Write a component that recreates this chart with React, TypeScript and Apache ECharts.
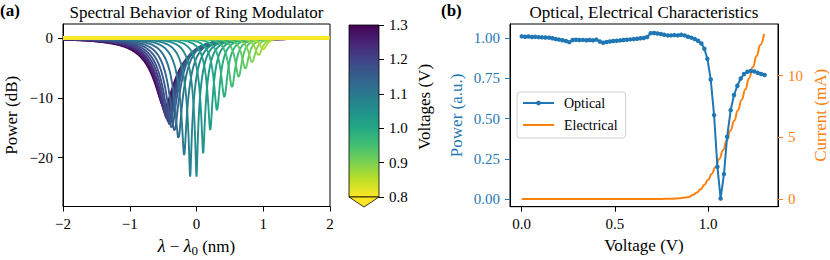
import React, { useEffect, useRef } from "react";
import * as echarts from "echarts";

// ---------- Panel (a): ring modulator spectra (one resonance per bias voltage) ----------
const ringVoltages = [1.3, 1.28, 1.26, 1.24, 1.22, 1.2, 1.18, 1.16, 1.14, 1.12, 1.1, 1.08, 1.06, 1.04, 1.02, 1.0, 0.98, 0.96, 0.94, 0.92, 0.9, 0.88, 0.86, 0.84, 0.82, 0.8];
const ringCenters = [-0.48, -0.47, -0.46, -0.45, -0.44, -0.42, -0.4, -0.37, -0.33, -0.27, -0.185, -0.095, 0.0, 0.1, 0.206, 0.307, 0.417, 0.532, 0.632, 0.732, 0.832, 0.93, 1.0, 0, 0, 0];
const ringDepthsDb = [-11.5, -12.0, -12.5, -13.0, -13.5, -14.0, -14.5, -15.0, -15.5, -16.8, -19.6, -23.2, -23.2, -19.3, -15.4, -12.1, -9.9, -8.2, -6.5, -5.1, -4.0, -2.85, -1.9, 0, 0, 0];
const ringHalfWidths = [0.4, 0.39, 0.375, 0.36, 0.34, 0.32, 0.295, 0.27, 0.245, 0.22, 0.2, 0.18, 0.16, 0.145, 0.13, 0.12, 0.11, 0.1, 0.09, 0.085, 0.08, 0.075, 0.07, 0.1, 0.1, 0.1];
const spectralTicks = [-20, -10, 0];
const wavelengthTicks = [-2, -1, 0, 1, 2];
const colorbarTicks = [0.8, 0.9, 1.0, 1.1, 1.2, 1.3];

// ---------- Panel (b): optical & electrical characteristics ----------
const opticalVoltage = [
  0, 0.018, 0.036, 0.055, 0.073, 0.091, 0.109, 0.127, 0.146, 0.164, 0.182, 0.2, 0.218, 0.237, 0.255, 0.273,
  0.291, 0.309, 0.328, 0.346, 0.364, 0.382, 0.4, 0.419, 0.437, 0.455, 0.473, 0.491, 0.51, 0.528, 0.546, 0.564,
  0.582, 0.601, 0.619, 0.637, 0.655, 0.673, 0.692, 0.71, 0.728, 0.746, 0.764, 0.783, 0.801, 0.819, 0.837, 0.855,
  0.874, 0.892, 0.91, 0.928, 0.946, 0.964, 0.98, 0.996, 1.014, 1.032, 1.05, 1.067, 1.085, 1.102, 1.121, 1.139,
  1.157, 1.175, 1.193, 1.211, 1.229, 1.248, 1.266, 1.284, 1.303,
];
const opticalPower = [
  1.012, 1.01, 1.011, 1.008, 1.009, 1.007, 1.006, 1.005, 1.004, 1.0, 0.996, 0.992, 0.988, 0.983, 0.976, 0.989,
  0.991, 0.989, 0.99, 0.988, 0.989, 0.987, 0.992, 0.98, 0.972, 0.977, 0.98, 0.983, 0.985, 0.987, 0.989, 0.991,
  0.993, 0.995, 0.997, 1.0, 1.002, 1.008, 1.032, 1.033, 1.03, 1.027, 1.022, 1.018, 1.018, 1.02, 1.018, 1.022,
  1.018, 1.01, 1.004, 0.996, 0.985, 0.968, 0.935, 0.872, 0.744, 0.522, 0.2, 0.003, 0.155, 0.387, 0.553, 0.647,
  0.705, 0.75, 0.778, 0.792, 0.797, 0.794, 0.785, 0.778, 0.772,
];
const electricalVoltage = [0, 0.2, 0.4, 0.6, 0.7, 0.75, 0.8, 0.85, 0.88, 0.9, 0.92, 0.94, 0.96, 0.98, 1.0, 1.02, 1.04, 1.06, 1.08, 1.1, 1.12, 1.14, 1.16, 1.18, 1.2, 1.22, 1.24, 1.26, 1.28, 1.3];
const electricalCurrent = [0, 0, 0, 0, 0, 0, 0.02, 0.06, 0.12, 0.18, 0.33, 0.52, 0.78, 1.15, 1.55, 2.05, 2.6, 3.25, 3.95, 4.75, 5.55, 6.35, 7.2, 8.05, 8.9, 9.8, 10.7, 11.6, 12.5, 13.4];
const voltageTicks = [0, 0.5, 1.0];
const powerTicks = [0, 0.25, 0.5, 0.75, 1.0];
const currentTicks = [0, 5, 10];

const VIRIDIS = ["#440154", "#482475", "#414487", "#355f8d", "#2a788e", "#21918c", "#22a884", "#44bf70", "#7ad151", "#bddf26", "#fde725"];

function hexToRgb(h: string) {
  return [parseInt(h.slice(1, 3), 16), parseInt(h.slice(3, 5), 16), parseInt(h.slice(5, 7), 16)];
}
function viridis(t: number) {
  const tt = Math.max(0, Math.min(1, t)) * (VIRIDIS.length - 1);
  const i = Math.min(VIRIDIS.length - 2, Math.floor(tt));
  const f = tt - i;
  const a = hexToRgb(VIRIDIS[i]);
  const b = hexToRgb(VIRIDIS[i + 1]);
  const c = a.map((v, k) => Math.round(v + (b[k] - v) * f));
  return `rgb(${c[0]},${c[1]},${c[2]})`;
}
const VMIN = 0.8;
const VMAX = 1.3;
const voltColor = (v: number) => viridis(1 - (v - VMIN) / (VMAX - VMIN));

function resonance(center: number, depthDb: number, hw: number) {
  const pts: number[][] = [];
  const tMin = Math.pow(10, depthDb / 10);
  for (let i = 0; i <= 800; i++) {
    const l = -2 + i * 0.005;
    const x = (l - center) / hw;
    const t = 1 - (1 - tMin) / (1 + x * x);
    pts.push([l, 10 * Math.log10(t)]);
  }
  return pts;
}

const FONT = "Liberation Serif";
const TICK_FS = 15;
const LABEL_FS = 17;
const BLUE = "#1f77b4";
const ORANGE = "#ff7f0e";

const GA = { left: 63, top: 24, width: 267, height: 182.5 };
const GC = { left: 349, top: 25, width: 30, height: 172 };
const GB = { left: 510, top: 24, width: 268, height: 182.7 };

const minusFmt = (v: number) => (v < 0 ? "\u2212" + Math.abs(v) : String(v));

export default function App() {
  const ref = useRef<HTMLDivElement>(null);
  useEffect(() => {
    if (!ref.current) return;
    const chart = echarts.init(ref.current, undefined, { renderer: "svg" });

    const tickStyle = (color: string) => ({ show: true, length: 5, inside: false, lineStyle: { color, width: 1 } });
    const labelStyle = (color: string) => ({ color, fontFamily: FONT, fontSize: TICK_FS });
    const axisLine = { show: true, onZero: false, lineStyle: { color: "#000" } };

    const ringSeries = ringVoltages.map((v, i) => ({
      name: v.toFixed(2) + " V",
      type: "line",
      xAxisIndex: 0,
      yAxisIndex: 0,
      showSymbol: false,
      symbol: "none",
      silent: true,
      data: resonance(ringCenters[i], ringDepthsDb[i], ringHalfWidths[i]),
      lineStyle: { color: voltColor(v), width: ringDepthsDb[i] === 0 ? 3.5 : 1.9 },
      itemStyle: { color: voltColor(v) },
    }));

    const gradStops = [];
    for (let k = 0; k <= 20; k++) {
      gradStops.push({ offset: k / 20, color: viridis(k / 20) });
    }

    const option: any = {
      animation: false,
      textStyle: { fontFamily: FONT },
      grid: [
        { ...GA, show: true, borderColor: "#000", borderWidth: 1, backgroundColor: "transparent" },
        { ...GC, show: true, borderColor: "#000", borderWidth: 0.8, backgroundColor: "transparent" },
        { ...GB, show: true, borderColor: "#000", borderWidth: 1, backgroundColor: "transparent" },
      ],
      xAxis: [
        {
          gridIndex: 0, type: "value", min: -2, max: 2, interval: 1,
          axisLine,
          axisTick: tickStyle("#000"),
          axisLabel: { ...labelStyle("#000"), margin: 10, formatter: minusFmt, customValues: wavelengthTicks },
          splitLine: { show: false },
        },
        { gridIndex: 1, type: "value", min: 0, max: 1, show: false },
        {
          gridIndex: 2, type: "value", min: -0.063, max: 1.375,
          axisLine,
          axisTick: { ...tickStyle("#000"), customValues: voltageTicks },
          axisLabel: { ...labelStyle("#000"), margin: 10, formatter: (v: number) => v.toFixed(1), customValues: voltageTicks },
          splitLine: { show: false },
        },
      ],
      yAxis: [
        {
          gridIndex: 0, type: "value", min: -28.2, max: 2.35,
          axisLine,
          axisTick: { ...tickStyle("#000"), customValues: spectralTicks },
          axisLabel: { ...labelStyle("#000"), margin: 10, formatter: minusFmt, customValues: spectralTicks },
          splitLine: { show: false },
        },
        {
          gridIndex: 1, type: "value", position: "right", min: 0.8, max: 1.3,
          axisLine: { show: false, onZero: false },
          axisTick: { ...tickStyle("#000"), customValues: colorbarTicks },
          axisLabel: { ...labelStyle("#000"), margin: 10, formatter: (v: number) => v.toFixed(1), customValues: colorbarTicks },
          splitLine: { show: false },
        },
        {
          gridIndex: 2, type: "value", min: -0.048, max: 1.089,
          axisLine,
          axisTick: { ...tickStyle(BLUE), customValues: powerTicks },
          axisLabel: { ...labelStyle(BLUE), margin: 10, formatter: (v: number) => v.toFixed(2), customValues: powerTicks },
          splitLine: { show: false },
        },
        {
          gridIndex: 2, type: "value", position: "right", min: -0.63, max: 14.2,
          axisLine,
          axisTick: { ...tickStyle(ORANGE), customValues: currentTicks },
          axisLabel: { ...labelStyle(ORANGE), margin: 10, customValues: currentTicks },
          splitLine: { show: false },
        },
      ],
      legend: {
        data: [{ name: "Optical" }, { name: "Electrical", itemStyle: { opacity: 0 } }],
        orient: "vertical",
        left: 517,
        top: 92,
        padding: [4, 8, 6, 5],
        itemGap: 8,
        itemWidth: 31,
        itemHeight: 6,
        borderColor: "#d0d0d0",
        borderWidth: 1,
        borderRadius: 3,
        backgroundColor: "#fff",
        textStyle: { fontFamily: FONT, fontSize: 14, color: "#000", padding: [0, 0, 0, 5] },
      },
      series: [
        ...ringSeries,
        {
          name: "Electrical",
          type: "line",
          xAxisIndex: 2,
          yAxisIndex: 3,
          symbol: "none",
          smooth: true,
          smoothMonotone: "x",
          data: electricalVoltage.map((v, i) => [v, electricalCurrent[i]]),
          lineStyle: { color: ORANGE, width: 2 },
          itemStyle: { color: ORANGE },
          z: 3,
        },
        {
          name: "Optical",
          type: "line",
          xAxisIndex: 2,
          yAxisIndex: 2,
          symbol: "circle",
          symbolSize: 4.5,
          showSymbol: true,
          data: opticalVoltage.map((v, i) => [v, opticalPower[i]]),
          lineStyle: { color: BLUE, width: 2 },
          itemStyle: { color: BLUE },
          z: 4,
        },
      ],
      graphic: [
        {
          type: "rect",
          z: -1,
          shape: { x: GC.left, y: GC.top, width: GC.width, height: GC.height },
          style: {
            fill: new echarts.graphic.LinearGradient(0, 0, 0, 1, gradStops),
            stroke: "none",
          },
        },
        {
          type: "polygon",
          shape: {
            points: [
              [GC.left, GC.top + GC.height],
              [GC.left + GC.width, GC.top + GC.height],
              [GC.left + GC.width / 2, GC.top + GC.height + 10],
            ],
          },
          style: { fill: viridis(1), stroke: "#000", lineWidth: 0.8 },
        },
        { type: "text", x: 0, y: 10, style: { text: "(a)", fontFamily: FONT, fontSize: LABEL_FS, fontWeight: "bold", fill: "#000", align: "left", verticalAlign: "middle" } },
        { type: "text", x: 441, y: 10, style: { text: "(b)", fontFamily: FONT, fontSize: LABEL_FS, fontWeight: "bold", fill: "#000", align: "left", verticalAlign: "middle" } },
        { type: "text", x: GA.left + GA.width / 2, y: 12, style: { text: "Spectral Behavior of Ring Modulator", fontFamily: FONT, fontSize: LABEL_FS, fill: "#000", align: "center", verticalAlign: "middle" } },
        { type: "text", x: GB.left + GB.width / 2, y: 12, style: { text: "Optical, Electrical Characteristics", fontFamily: FONT, fontSize: LABEL_FS, fill: "#000", align: "center", verticalAlign: "middle" } },
        { type: "text", x: 11, y: GA.top + GA.height / 2, rotation: Math.PI / 2, style: { text: "Power (dB)", fontFamily: FONT, fontSize: LABEL_FS, fill: "#000", align: "center", verticalAlign: "middle" } },
        {
          type: "text", x: GA.left + GA.width / 2, y: 246,
          style: {
            text: "{i|λ} − {i|λ}{s|0} (nm)",
            fontFamily: FONT, fontSize: LABEL_FS, fill: "#000", align: "center", verticalAlign: "middle",
            rich: {
              i: { fontFamily: FONT, fontSize: 18, fontStyle: "italic", lineHeight: 22, verticalAlign: "middle" },
              s: { fontFamily: FONT, fontSize: 13, lineHeight: 22, verticalAlign: "bottom", padding: [6, 0, 0, 0] },
            },
          },
        },
        { type: "text", x: 424, y: GC.top + GC.height / 2 - 4, rotation: Math.PI / 2, style: { text: "Voltages (V)", fontFamily: FONT, fontSize: LABEL_FS, fill: "#000", align: "center", verticalAlign: "middle" } },
        { type: "text", x: 456, y: GB.top + GB.height / 2, rotation: Math.PI / 2, style: { text: "Power (a.u.)", fontFamily: FONT, fontSize: LABEL_FS, fill: BLUE, align: "center", verticalAlign: "middle" } },
        { type: "text", x: 820, y: GB.top + GB.height / 2, rotation: Math.PI / 2, style: { text: "Current (mA)", fontFamily: FONT, fontSize: LABEL_FS, fill: ORANGE, align: "center", verticalAlign: "middle" } },
        { type: "text", x: GB.left + GB.width / 2, y: 245, style: { text: "Voltage (V)", fontFamily: FONT, fontSize: LABEL_FS, fill: "#000", align: "center", verticalAlign: "middle" } },
      ],
    };
    chart.setOption(option);
    return () => chart.dispose();
  }, []);
  return (
    <>
      <style>{`#ringchart text { font-family: "Liberation Serif", serif !important; }`}</style>
      <div id="ringchart" ref={ref} style={{ position: "fixed", left: 0, top: 0, width: 830, height: 260, background: "#fff" }} />
    </>
  );
}
